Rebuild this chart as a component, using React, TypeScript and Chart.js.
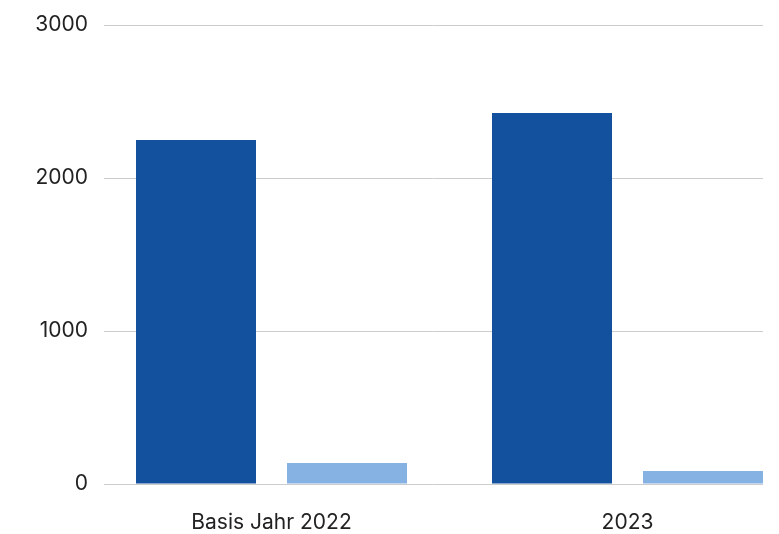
import React, { useEffect, useRef } from "react";
import { Chart, registerables } from "chart.js";

Chart.register(...registerables);

const categories = ["Basis Jahr 2022", "2023"];
const seriesDark = [2248, 2425];
const seriesLight = [137, 85];
const yTicks = [0, 1000, 2000, 3000];

export default function App() {
  const ref = useRef<HTMLCanvasElement | null>(null);

  useEffect(() => {
    if (!ref.current) return;
    const font = { family: "Inter, 'Open Sans', sans-serif", size: 21 };
    const chart = new Chart(ref.current, {
      type: "bar",
      data: {
        datasets: [
          {
            label: "A",
            data: categories.map((_, i) => ({ x: i, y: seriesDark[i] })),
            backgroundColor: "#13509D",
            categoryPercentage: 0.8483,
            barPercentage: 0.7947,
          },
          {
            label: "B",
            data: categories.map((_, i) => ({ x: i, y: seriesLight[i] })),
            backgroundColor: "#85B2E2",
            categoryPercentage: 0.8483,
            barPercentage: 0.7947,
          },
        ],
      },
      options: {
        animation: false,
        responsive: true,
        maintainAspectRatio: false,
        layout: { padding: { top: 25, right: 16, left: 0, bottom: 0 } },
        plugins: { legend: { display: false }, tooltip: { enabled: false } },
        scales: {
          x: {
            type: "linear",
            offset: false,
            min: -0.4705,
            max: 1.3806,
            grid: { display: false, drawTicks: false, offset: false },
            border: { display: false },
            afterBuildTicks: (scale: any) => {
              scale.ticks = categories.map((_, i) => ({ value: i }));
            },
            afterFit: (scale: any) => {
              scale.height = 50;
              scale.paddingLeft = 0;
              scale.paddingRight = 0;
            },
            ticks: {
              font,
              color: "#222222",
              padding: 26,
              maxRotation: 0,
              autoSkip: false,
              callback: (v: any) => categories[v as number] ?? "",
            },
          },
          y: {
            min: yTicks[0],
            max: yTicks[yTicks.length - 1],
            grid: { color: "#CCCCCC", drawTicks: false, lineWidth: 1 },
            border: { display: false },
            afterFit: (scale: any) => {
              scale.width = 104;
              scale.paddingTop = 0;
              scale.paddingBottom = 0;
            },
            afterBuildTicks: (scale: any) => {
              scale.ticks = yTicks.map((v) => ({ value: v }));
            },
            ticks: {
              font,
              color: "#222222",
              padding: 16,
              callback: (v: any) => String(v),
            },
          },
        },
      },
    });
    return () => chart.destroy();
  }, []);

  return (
    <div style={{ position: "fixed", left: 0, top: 0, width: 779, height: 534 }}>
      <canvas ref={ref} />
    </div>
  );
}
